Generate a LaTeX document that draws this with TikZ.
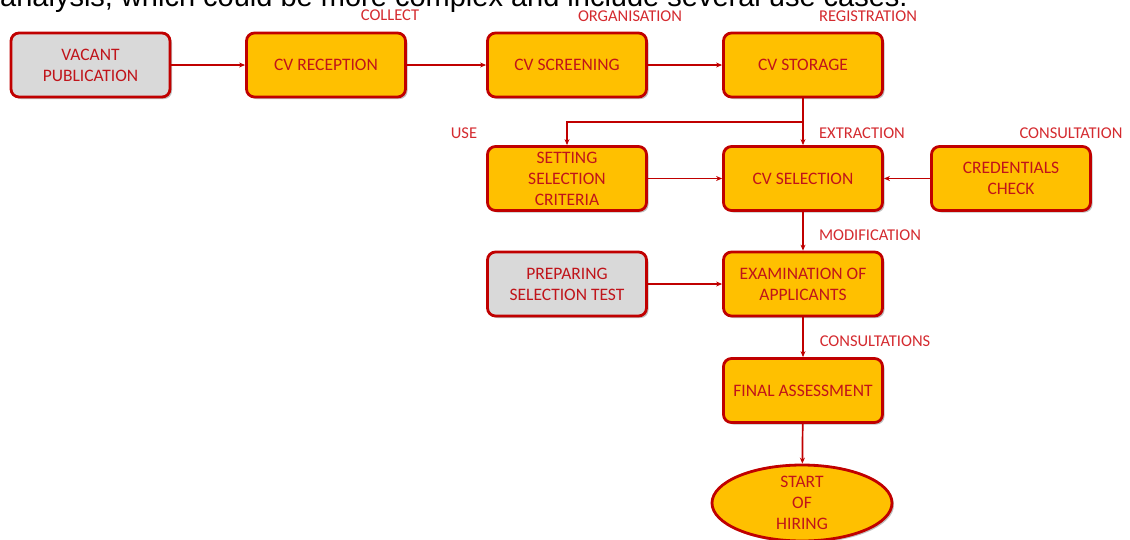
\documentclass[tikz,border=0pt]{standalone}
\usepackage{fontspec}
\setmainfont{Carlito}
\newfontfamily\arialfont{Liberation Sans}
\usetikzlibrary{shapes.geometric,arrows.meta,shadows}
\definecolor{amber}{HTML}{FFC000}
\definecolor{boxred}{HTML}{C00000}
\definecolor{txtred}{HTML}{C0141A}
\definecolor{lblred}{HTML}{D42A2F}
\definecolor{greybox}{HTML}{D9D9D9}
\tikzset{
  procbox/.style={rectangle, rounded corners=8pt, draw=boxred, line width=2.8pt,
    fill=amber, text=txtred, align=center, minimum width=159pt, minimum height=64pt,
    inner sep=2pt, font=\fontsize{17.5}{21}\selectfont,
    drop shadow={shadow xshift=2pt, shadow yshift=-2pt, opacity=0.25, fill=black}},
  greyproc/.style={procbox, fill=greybox},
  endell/.style={ellipse, draw=boxred, line width=2.8pt, fill=amber, text=txtred,
    align=center, minimum width=180pt, minimum height=76pt, inner sep=0pt,
    font=\fontsize{17.5}{21}\selectfont,
    drop shadow={shadow xshift=2pt, shadow yshift=-2pt, opacity=0.25, fill=black}},
  lbl/.style={text=lblred, font=\fontsize{16.5}{18}\selectfont, inner sep=0pt},
  conn/.style={draw=boxred, line width=1.7pt, -{Stealth[length=6pt,width=5pt]}}
}
\begin{document}
\begin{tikzpicture}[x=1pt,y=-1pt]
\useasboundingbox (0,0) rectangle (1130,539);
\clip (0,0) rectangle (1130,539);

% running text above the chart
\node[anchor=base west, inner sep=0pt, font=\fontsize{29}{29}\arialfont] (intro) at (0,6.5)
  {analysis, which could be more complex and include several use cases.};

% process boxes
\node[greyproc] (vac)  at (90.5,65)  {VACANT\\PUBLICATION};
\node[procbox]  (rec)  at (326,65)   {CV RECEPTION};
\node[procbox]  (scr)  at (567,65)   {CV SCREENING};
\node[procbox]  (sto)  at (803,65)   {CV STORAGE};
\node[procbox]  (set)  at (567,178.5) {SETTING\\SELECTION\\CRITERIA};
\node[procbox]  (sel)  at (803,178.5) {CV SELECTION};
\node[procbox]  (cred) at (1011,178.5) {CREDENTIALS\\CHECK};
\node[greyproc] (prep) at (567,284)  {PREPARING\\SELECTION TEST};
\node[procbox]  (exam) at (803,284)  {EXAMINATION OF\\APPLICANTS};
\node[procbox]  (fin)  at (803,390.5) {FINAL ASSESSMENT};
\node[endell]   (hire) at (802,503)  {START\\OF\\HIRING};

% step labels
\node[lbl] (lcol) at (390,15)  {COLLECT};
\node[lbl] (lorg) at (630,16)  {ORGANISATION};
\node[lbl] (lreg) at (868,16)  {REGISTRATION};
\node[lbl] (luse) at (464,133) {USE};
\node[lbl] (lext) at (862,133) {EXTRACTION};
\node[lbl] (lcon) at (1071,133) {CONSULTATION};
\node[lbl] (lmod) at (870,235) {MODIFICATION};
\node[lbl] (lcons) at (875,341) {CONSULTATIONS};

% connectors
\coordinate (br) at (803,122);
\draw[conn] (vac) -- (rec);
\draw[conn] (rec) -- (scr);
\draw[conn] (scr) -- (sto);
\draw[conn] (sto) -- (sel);
\draw[conn] (br) -| (set.north);
\draw[conn] (set) -- (sel);
\draw[conn] (cred) -- (sel);
\draw[conn] (sel) -- (exam);
\draw[conn] (prep) -- (exam);
\draw[conn] (exam) -- (fin);
\draw[conn] (fin) -- (hire);
\end{tikzpicture}
\end{document}
